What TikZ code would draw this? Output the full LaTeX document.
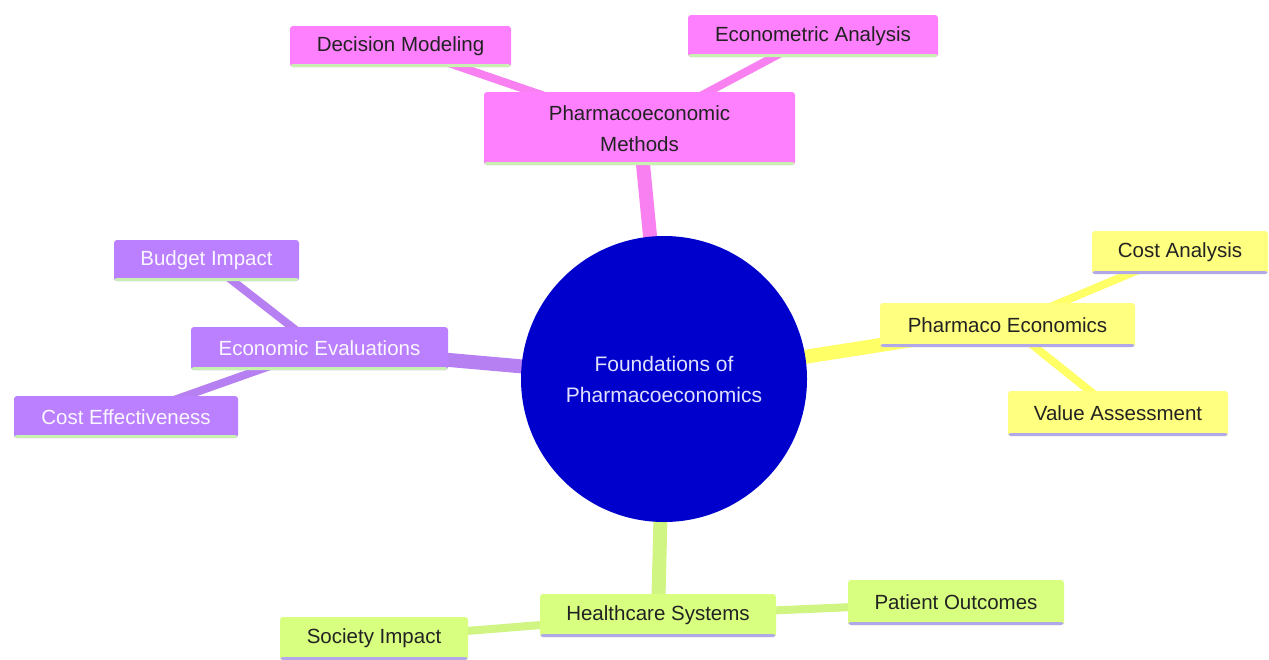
\documentclass[tikz,border=0pt]{standalone}
\usepackage{fontspec}
\setmainfont{Liberation Sans}
\usetikzlibrary{backgrounds}
\definecolor{pinkfill}{HTML}{FF80FF}
\definecolor{pinkline}{HTML}{F880F0}
\definecolor{yelfill}{HTML}{FFFF80}
\definecolor{yelline}{HTML}{FFFF66}
\definecolor{purfill}{HTML}{BB80FF}
\definecolor{purline}{HTML}{B780F2}
\definecolor{grnfill}{HTML}{D8FF80}
\definecolor{grnline}{HTML}{D0F583}
\definecolor{lavender}{HTML}{B0A8E8}
\definecolor{mintedge}{HTML}{C8F0B0}
\definecolor{hubblue}{HTML}{0000CC}
\definecolor{darktext}{HTML}{222222}
\tikzset{
  box/.style={rectangle, rounded corners=3pt, inner sep=0pt, align=center,
    font=\fontsize{20.5}{31}\selectfont},
  edgebar/.style 2 args={path picture={\fill[#1] ([yshift=-0.5pt]path picture bounding box.south west) rectangle ([yshift=#2]path picture bounding box.south east);}},
  pinkbox/.style={box, fill=pinkfill, text=darktext, edgebar={mintedge}{3pt}},
  yelbox/.style={box, fill=yelfill, text=darktext, edgebar={lavender}{3pt}},
  purbox/.style={box, fill=purfill, text=white!94!purfill, edgebar={mintedge}{3pt}},
  grnbox/.style={box, fill=grnfill, text=darktext, edgebar={lavender}{3pt}},
  hub/.style={circle, fill=hubblue, minimum size=286pt, inner sep=0pt, align=center,
    text=white!88!blue, font=\fontsize{21}{31}\selectfont},
  thick link/.style={line width=14pt},
  thin link/.style={line width=8pt},
}
\begin{document}
\begin{tikzpicture}[x=1pt,y=-1pt]
\useasboundingbox (0,0) rectangle (1269,659);
% hub
\node[hub] (hub) at (664,379) {Foundations of\\Pharmacoeconomics};
% methods
\node[pinkbox, minimum width=311pt, minimum height=73pt] (meth) at (639.5,128.5) {Pharmacoeconomic\\Methods};
\node[pinkbox, minimum width=221pt, minimum height=41pt] (dec) at (400.5,46.5) {Decision Modeling};
\node[pinkbox, minimum width=250pt, minimum height=42pt] (eco) at (813,36) {Econometric Analysis};
% pharmaco economics
\node[yelbox, minimum width=255pt, minimum height=44pt] (pe) at (1007.5,325) {Pharmaco Economics};
\node[yelbox, minimum width=176pt, minimum height=43pt] (ca) at (1180,252.5) {Cost Analysis};
\node[yelbox, minimum width=220pt, minimum height=45pt] (va) at (1118,413.5) {Value Assessment};
% economic evaluations
\node[purbox, minimum width=257pt, minimum height=43pt] (ee) at (319.5,348.5) {Economic Evaluations};
\node[purbox, minimum width=185pt, minimum height=41pt] (bi) at (206.5,260.5) {Budget Impact};
\node[purbox, minimum width=224pt, minimum height=42pt] (ce) at (126,417) {Cost Effectiveness};
% healthcare systems
\node[grnbox, minimum width=236pt, minimum height=43pt] (hs) at (658,615.5) {Healthcare Systems};
\node[grnbox, minimum width=188pt, minimum height=43pt] (si) at (374,638.5) {Society Impact};
\node[grnbox, minimum width=216pt, minimum height=45pt] (po) at (956,602.5) {Patient Outcomes};
\begin{scope}[on background layer]
\fill[white] (0,0) rectangle (1269,659);
\draw[thick link, pinkline] (meth.center) -- (hub.center);
\draw[thin link, pinkline] (dec.center) -- (meth.center);
\draw[thin link, pinkline] (eco.center) -- (meth.center);
\draw[thick link, yelline] (pe.center) -- (hub.center);
\draw[thin link, yelline] (ca.center) -- (pe.center);
\draw[thin link, yelline] (va.center) -- (pe.center);
\draw[thick link, purline] (ee.center) -- (hub.center);
\draw[thin link, purline] (bi.center) -- (ee.center);
\draw[thin link, purline] (ce.center) -- (ee.center);
\draw[thick link, grnline] (hs.center) -- (hub.center);
\draw[thin link, grnline] (si.center) -- (hs.center);
\draw[thin link, grnline] (po.center) -- (hs.center);
\end{scope}
\end{tikzpicture}
\end{document}
